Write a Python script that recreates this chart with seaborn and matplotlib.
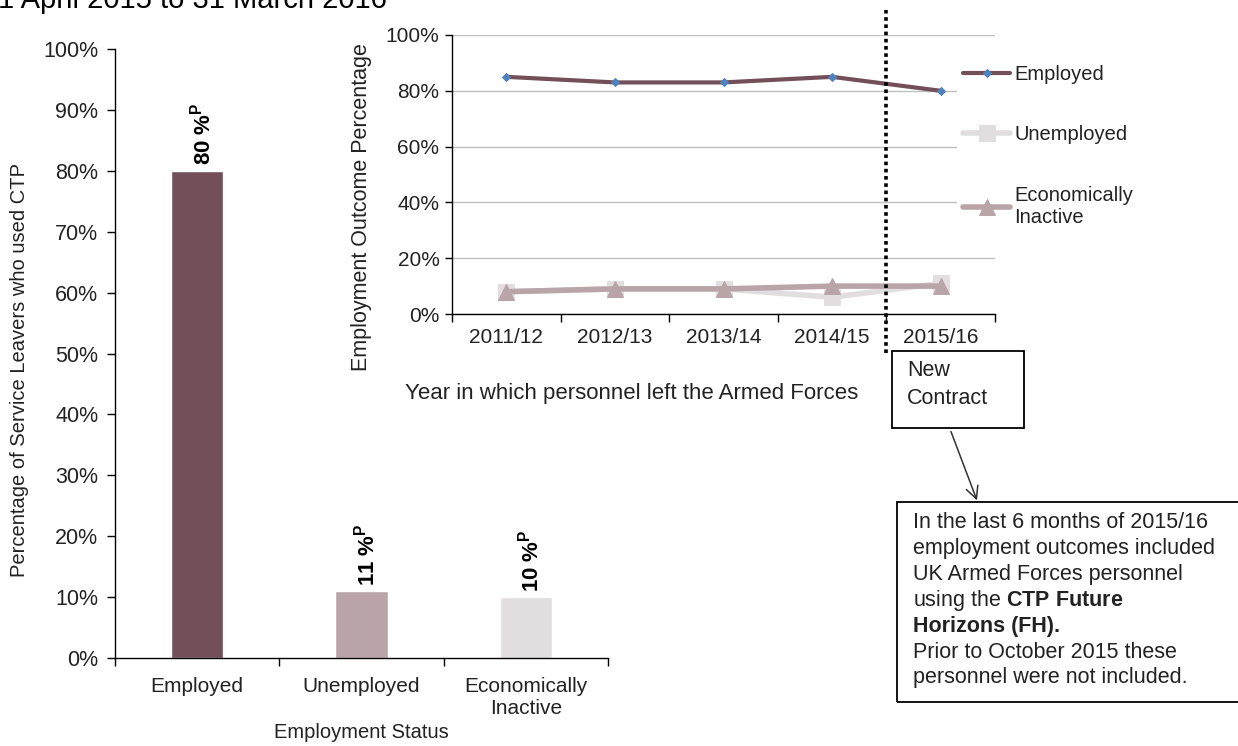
import matplotlib
matplotlib.use("Agg")
import matplotlib.pyplot as plt
from matplotlib.patches import Rectangle, FancyArrowPatch
from matplotlib.ticker import FixedLocator, FuncFormatter
import numpy as np
import pandas as pd
import seaborn as sns

# ---- data -------------------------------------------------------------
status = ["Employed", "Unemployed", "Economically\nInactive"]
status_pct = [80, 11, 10]

years = ["2011/12", "2012/13", "2013/14", "2014/15", "2015/16"]
employed = [85, 83, 83, 85, 80]
unemployed = [8, 9, 9, 6, 11]
inactive = [8, 9, 9, 10, 10]

bar_colors = ["#734F5A", "#B9A4A8", "#E2DEDF"]
emp_color = "#734F5A"
unemp_color = "#E2DEDF"
inact_color = "#B9A4A8"
marker_blue = "#4F81BD"
text_color = "#222222"

# ---- style ------------------------------------------------------------
sns.set_theme(style="white")
plt.rcParams["font.family"] = ["Liberation Sans", "DejaVu Sans"]
plt.rcParams["mathtext.fontset"] = "custom"
plt.rcParams["mathtext.rm"] = "Liberation Sans"
plt.rcParams["mathtext.bf"] = "Liberation Sans:bold"
plt.rcParams["mathtext.it"] = "Liberation Sans:italic"
plt.rcParams["text.color"] = text_color
plt.rcParams["axes.labelcolor"] = text_color
plt.rcParams["xtick.color"] = text_color
plt.rcParams["ytick.color"] = text_color

W, H = 1238, 746
fig = plt.figure(figsize=(W / 100, H / 100), dpi=100)


def fx(x):
    return x / W


def fy(y):
    return 1 - y / H


pct_fmt = FuncFormatter(lambda v, _: f"{v:.0f}%")

# ---- bar chart: outcomes for 2015/16 ------------------------------------
ax1 = fig.add_axes([fx(115), fy(658), fx(608) - fx(115), fy(49) - fy(658)])
bar_df = pd.DataFrame({"status": status, "pct": status_pct})
sns.barplot(data=bar_df, x="status", y="pct", hue="status", palette=bar_colors,
            width=0.32, saturation=1, legend=False, ax=ax1)
ax1.set_ylim(0, 100)
ax1.set_xlim(-0.5, 2.5)
ax1.yaxis.set_major_locator(FixedLocator(np.arange(0, 101, 10)))
ax1.yaxis.set_major_formatter(pct_fmt)
ax1.xaxis.set_minor_locator(FixedLocator(np.arange(-0.5, 2.6, 1)))
ax1.tick_params(axis="x", which="major", length=0, pad=14, labelsize=15)
ax1.tick_params(axis="x", which="minor", length=6, width=1, color="black",
                direction="out", bottom=True)
ax1.tick_params(axis="y", length=6, width=1, color="black", direction="out",
                left=True, pad=6, labelsize=15.5)
for side in ("top", "right"):
    ax1.spines[side].set_visible(False)
for side in ("left", "bottom"):
    ax1.spines[side].set_color("black")
    ax1.spines[side].set_linewidth(1)
ax1.set_xlabel("Employment Status", fontsize=14.5, va="center")
ax1.xaxis.set_label_coords(0.5, (658 - 733) / 609)
ax1.set_ylabel("Percentage of Service Leavers who used CTP", fontsize=14.5,
               va="center")
ax1.yaxis.set_label_coords((20 - 115) / 493, (658 - 370) / 609)

for i, v in enumerate(status_pct):
    ax1.text(i + 0.03, v + 0.9, f"{v} %" + r"$^{\mathbf{P}}$", rotation=90,
             ha="center", va="bottom", fontsize=16, fontweight="bold",
             color="black")

# ---- line chart: outcomes by year of leaving ---------------------------
ax2 = fig.add_axes([fx(452), fy(314), fx(995) - fx(452), fy(35) - fy(314)])
ax2.set_facecolor("white")
ax2.set_zorder(3)
sns.lineplot(x=years, y=unemployed, color=unemp_color, lw=4, marker="s",
             markersize=11, markeredgecolor=unemp_color,
             markerfacecolor=unemp_color, label="Unemployed", ax=ax2,
             sort=False)
sns.lineplot(x=years, y=inactive, color=inact_color, lw=4, marker="^",
             markersize=11, markeredgecolor=inact_color,
             markerfacecolor=inact_color, label="Economically\nInactive",
             ax=ax2, sort=False)
sns.lineplot(x=years, y=employed, color=emp_color, lw=3, marker="D",
             markersize=4, markeredgecolor=marker_blue,
             markerfacecolor=marker_blue, label="Employed", ax=ax2, sort=False)

ax2.set_ylim(0, 100)
ax2.set_xlim(-0.5, len(years) - 0.5)
ax2.yaxis.set_major_locator(FixedLocator(np.arange(0, 101, 20)))
ax2.yaxis.set_major_formatter(pct_fmt)
ax2.xaxis.set_minor_locator(FixedLocator(np.arange(-0.5, len(years), 1)))
ax2.grid(axis="y", color="#BFBFBF", lw=1)
ax2.set_axisbelow(True)
ax2.tick_params(axis="x", which="major", length=0, pad=10, labelsize=15)
ax2.tick_params(axis="x", which="minor", length=6, width=1, color="black",
                direction="out", bottom=True)
ax2.tick_params(axis="y", length=5, width=1, color="black", direction="out",
                left=True, pad=4, labelsize=15)
for side in ("top", "right"):
    ax2.spines[side].set_visible(False)
for side in ("left", "bottom"):
    ax2.spines[side].set_color("black")
    ax2.spines[side].set_linewidth(1)
ax2.set_xlabel("Year in which personnel left the Armed Forces", fontsize=16,
               va="center")
ax2.xaxis.set_label_coords((632 - 452) / 543, (314 - 393) / 279)
ax2.set_ylabel("Employment Outcome Percentage", fontsize=15.5, va="center")
ax2.yaxis.set_label_coords((362 - 452) / 543, (314 - 207) / 279)

handles, labels = ax2.get_legend_handles_labels()
order = [labels.index("Employed"), labels.index("Unemployed"),
         labels.index("Economically\nInactive")]
leg = ax2.legend([handles[i] for i in order], [labels[i] for i in order],
                 loc="upper left", bbox_to_anchor=(fx(947), fy(49)),
                 bbox_transform=fig.transFigure, frameon=True,
                 facecolor="white", edgecolor="none", framealpha=1,
                 fontsize=14.5, handlelength=2.35, handletextpad=0.2,
                 labelspacing=2.05, borderpad=0.3)
for t in leg.get_texts():
    t.set_color(text_color)

# dotted divider marking the change of contract
ax2.axvline(3.5, ymin=-0.14, ymax=1.1, clip_on=False, color="black", lw=2.6,
            linestyle=(0, (1, 1)), zorder=10)

# ---- annotations ------------------------------------------------------
fig.add_artist(Rectangle((fx(892), fy(428)), fx(1024) - fx(892),
                         fy(351) - fy(428), transform=fig.transFigure,
                         fill=False, ec="black", lw=1.3))
fig.text(fx(907), fy(371), "New", fontsize=15.5, va="center", ha="left")
fig.text(fx(907), fy(398), "Contract", fontsize=15.5, va="center", ha="left")

fig.add_artist(FancyArrowPatch((fx(950), fy(429)), (fx(978), fy(503)),
                               transform=fig.transFigure, arrowstyle="->",
                               mutation_scale=22, lw=1.1, color="#333333"))

fig.add_artist(Rectangle((fx(897), fy(702)), fx(1300) - fx(897),
                         fy(502) - fy(702), transform=fig.transFigure,
                         fill=False, ec="black", lw=1.3, clip_on=False))
note_lines = [
    ("In the last 6 months of 2015/16", "normal"),
    ("employment outcomes included", "normal"),
    ("UK Armed Forces personnel", "normal"),
    (r"using the $\mathbf{CTP\ Future}$", "normal"),
    ("Horizons (FH).", "bold"),
    ("Prior to October 2015 these", "normal"),
    ("personnel were not included.", "normal"),
]
for k, (line, weight) in enumerate(note_lines):
    fig.text(fx(913), fy(523 + 25.8 * k), line, fontsize=15.5,
             fontweight=weight, va="center", ha="left")

# heading line running off the top edge
fig.text(fx(-2), fy(8), "1 April 2015 to 31 March 2016", fontsize=21,
         va="baseline", ha="left", color="black")

fig.savefig("out.png", dpi=100)
